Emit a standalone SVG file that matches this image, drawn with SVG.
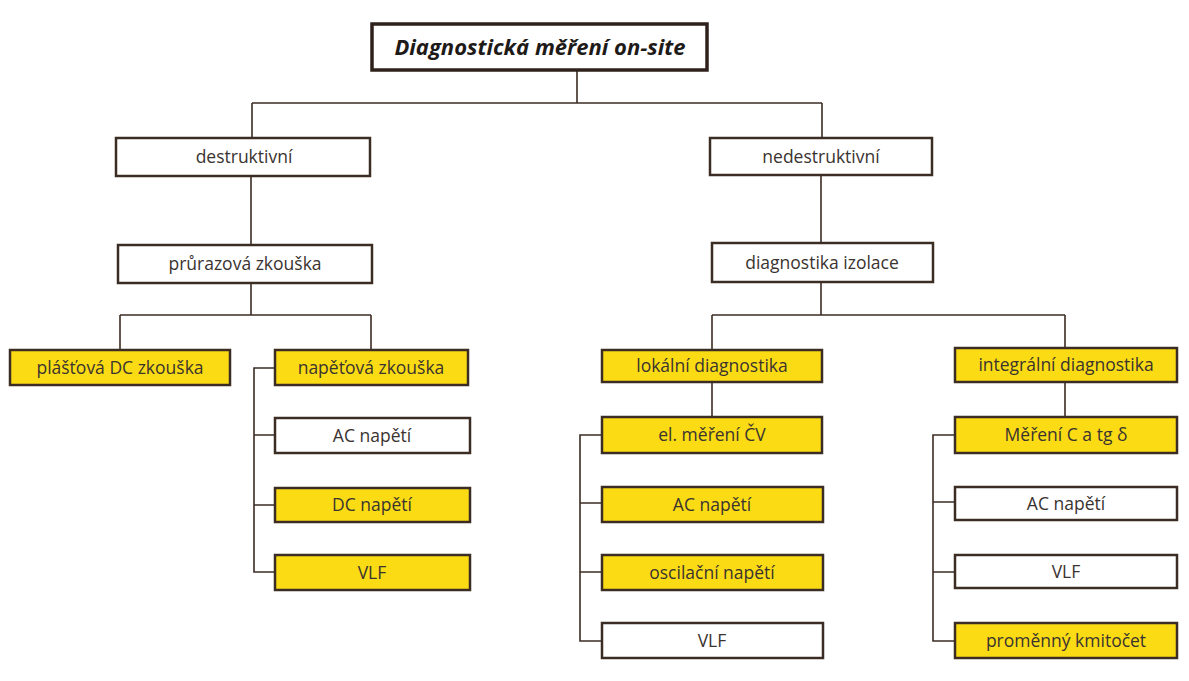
<svg xmlns="http://www.w3.org/2000/svg" width="1189" height="681" viewBox="0 0 1189 681">
<style>
.b{fill:#fff;stroke:#3b2c24;stroke-width:2.5}
.y{fill:#fbdc14;stroke:#3b2c24;stroke-width:2.5}
.t{font-family:"Open Sans","Noto Sans",sans-serif;font-size:17.5px;fill:#3a3330;text-anchor:middle}
.r{font-family:"Open Sans","Noto Sans",sans-serif;font-size:22px;font-weight:bold;font-style:italic;fill:#1e1a18;text-anchor:middle}
.c{fill:none;stroke:#3b2c24;stroke-width:1.6}
</style>
<rect width="1189" height="681" fill="#fff"/>
<g id="connectors">
<path class="c" d="M577 70V103M252 103H822M252 103V138M822 103V138"/>
<path class="c" d="M251 176V245M821 176V243"/>
<path class="c" d="M251 283V315M120 315H371M120 315V350M371 315V350"/>
<path class="c" d="M275 368H254V572H275M254 435H275M254 505H275"/>
<path class="c" d="M821 282V315M712 315H1065M712 315V350M1065 315V348"/>
<path class="c" d="M712 382V417M1065 382V417"/>
<path class="c" d="M602 435H580V641H602M580 503H602M580 572H602"/>
<path class="c" d="M955 435H933V641H955M933 502H955M933 572H955"/>
</g>
<g id="root"><rect x="372" y="24" width="335" height="46" fill="#fff" stroke="#2e211b" stroke-width="3.5"/><text class="r" x="540" y="55">Diagnostická měření on-site</text></g>
<g id="destruktivni"><rect class="b" x="116" y="138" width="254" height="38"/><text class="t" x="244" y="163">destruktivní</text></g>
<g id="nedestruktivni"><rect class="b" x="710" y="138" width="222" height="37"/><text class="t" x="821" y="163">nedestruktivní</text></g>
<g id="prurazova"><rect class="b" x="118" y="245" width="254" height="38"/><text class="t" x="245" y="270">průrazová zkouška</text></g>
<g id="diagnostika-izolace"><rect class="b" x="712" y="243" width="221" height="39"/><text class="t" x="822" y="269">diagnostika izolace</text></g>
<g id="plastova"><rect class="y" x="10" y="350" width="220" height="35"/><text class="t" x="120" y="374">plášťová DC zkouška</text></g>
<g id="napetova"><rect class="y" x="275" y="350" width="193" height="35"/><text class="t" x="371" y="374">napěťová zkouška</text></g>
<g id="l-ac"><rect class="b" x="275" y="418" width="195" height="35"/><text class="t" x="372" y="442">AC napětí</text></g>
<g id="l-dc"><rect class="y" x="275" y="488" width="195" height="34"/><text class="t" x="372" y="511">DC napětí</text></g>
<g id="l-vlf"><rect class="y" x="275" y="555" width="195" height="35"/><text class="t" x="372" y="579">VLF</text></g>
<g id="lokalni"><rect class="y" x="602" y="350" width="220" height="32"/><text class="t" x="712" y="372">lokální diagnostika</text></g>
<g id="integralni"><rect class="y" x="955" y="348" width="222" height="34"/><text class="t" x="1066" y="371">integrální diagnostika</text></g>
<g id="el-mereni"><rect class="y" x="602" y="417" width="220" height="36"/><text class="t" x="712" y="441">el. měření ČV</text></g>
<g id="c-ac"><rect class="y" x="602" y="487" width="221" height="35"/><text class="t" x="712" y="511">AC napětí</text></g>
<g id="c-osc"><rect class="y" x="602" y="555" width="221" height="35"/><text class="t" x="712" y="579">oscilační napětí</text></g>
<g id="c-vlf"><rect class="b" x="602" y="623" width="221" height="35"/><text class="t" x="712" y="647">VLF</text></g>
<g id="mereni-c"><rect class="y" x="955" y="417" width="222" height="36"/><text class="t" x="1066" y="441">Měření C a tg δ</text></g>
<g id="r-ac"><rect class="b" x="955" y="487" width="222" height="33"/><text class="t" x="1066" y="510">AC napětí</text></g>
<g id="r-vlf"><rect class="b" x="955" y="555" width="222" height="33"/><text class="t" x="1066" y="578">VLF</text></g>
<g id="promenny"><rect class="y" x="955" y="623" width="222" height="35"/><text class="t" x="1066" y="647">proměnný kmitočet</text></g>
</svg>
